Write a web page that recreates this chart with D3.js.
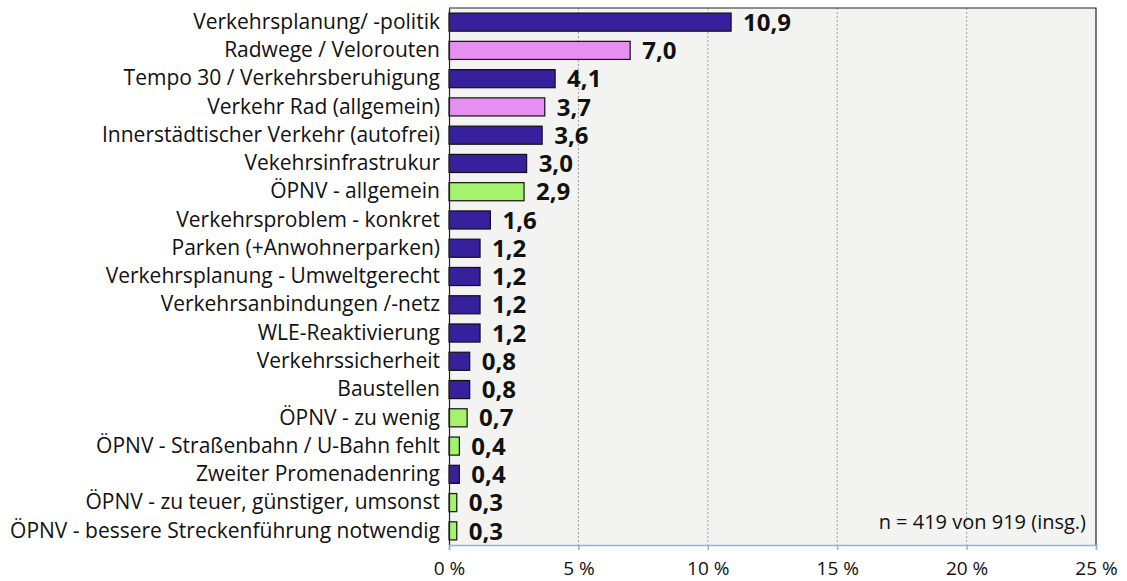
<!DOCTYPE html>
<html>
<head>
<meta charset="utf-8">
<script src="https://cdn.jsdelivr.net/npm/d3@7"></script>
<style>
  body { margin: 0; background: #fff; }
  text { font-family: "Open Sans", sans-serif; }
</style>
</head>
<body>
<script>
const w = 1127;
const h = 581;
const margin = { top: 8, right: 31, bottom: 36, left: 449 };

// data
const categories = [
  'Verkehrsplanung/ -politik',
  'Radwege / Velorouten',
  'Tempo 30 / Verkehrsberuhigung',
  'Verkehr Rad (allgemein)',
  'Innerstädtischer Verkehr (autofrei)',
  'Vekehrsinfrastrukur',
  'ÖPNV - allgemein',
  'Verkehrsproblem - konkret',
  'Parken (+Anwohnerparken)',
  'Verkehrsplanung - Umweltgerecht',
  'Verkehrsanbindungen /-netz',
  'WLE-Reaktivierung',
  'Verkehrssicherheit',
  'Baustellen',
  'ÖPNV - zu wenig',
  'ÖPNV - Straßenbahn / U-Bahn fehlt',
  'Zweiter Promenadenring',
  'ÖPNV - zu teuer, günstiger, umsonst',
  'ÖPNV - bessere Streckenführung notwendig'
];
const values = [10.9, 7.0, 4.1, 3.7, 3.6, 3.0, 2.9, 1.6, 1.2, 1.2, 1.2, 1.2, 0.8, 0.8, 0.7, 0.4, 0.4, 0.3, 0.3];
const groups = ['verkehr', 'rad', 'verkehr', 'rad', 'verkehr', 'verkehr', 'oepnv', 'verkehr', 'verkehr',
  'verkehr', 'verkehr', 'verkehr', 'verkehr', 'verkehr', 'oepnv', 'oepnv', 'verkehr', 'oepnv', 'oepnv'];
const xTicks = [0, 5, 10, 15, 20, 25];
const note = 'n = 419 von 919 (insg.)';

const colorOf = { verkehr: '#36209c', rad: '#e78ff0', oepnv: '#a5f26c' };

const svg = d3.select('body').append('svg')
  .attr('width', w)
  .attr('height', h);

const x = d3.scaleLinear()
  .domain([0, 25])
  .range([margin.left, w - margin.right]);
const y = d3.scaleBand()
  .domain(categories)
  .range([margin.top, h - margin.bottom])
  .paddingInner(0.36)
  .paddingOuter(0.18);

// plot background
svg.append('rect')
  .attr('x', x(0))
  .attr('y', margin.top)
  .attr('width', x(25) - x(0))
  .attr('height', h - margin.bottom - margin.top)
  .attr('fill', '#f3f4f2');

// gridlines
svg.append('g')
  .selectAll('line')
  .data(xTicks.slice(1, -1))
  .enter().append('line')
  .attr('x1', (d) => x(d)).attr('x2', (d) => x(d))
  .attr('y1', margin.top).attr('y2', h - margin.bottom)
  .attr('stroke', '#8a8a8a')
  .attr('stroke-dasharray', '2,2')
  .attr('stroke-width', 0.8);

// top + right border
svg.append('path')
  .attr('d', `M${x(0)},${margin.top}H${x(25)}V${h - margin.bottom}`)
  .attr('fill', 'none')
  .attr('stroke', '#222')
  .attr('stroke-width', 1.2);

// bars
svg.append('g')
  .selectAll('rect')
  .data(values)
  .enter().append('rect')
  .attr('x', x(0))
  .attr('y', (d, i) => y(categories[i]))
  .attr('width', (d) => x(d) - x(0))
  .attr('height', y.bandwidth())
  .attr('fill', (d, i) => colorOf[groups[i]])
  .attr('stroke', '#111')
  .attr('stroke-width', 1.2);

// value labels
svg.append('g')
  .selectAll('text')
  .data(values)
  .enter().append('text')
  .attr('x', (d) => x(d) + 12)
  .attr('y', (d, i) => y(categories[i]) + y.bandwidth() / 2)
  .attr('dy', '0.36em')
  .style('font-size', '24px')
  .style('font-weight', 'bold')
  .attr('fill', '#111')
  .text((d) => d.toFixed(1).replace('.', ','));

// y axis
const yAxis = svg.append('g')
  .attr('transform', `translate(${x(0)},0)`)
  .call(d3.axisLeft(y).tickSize(0).tickPadding(9));
yAxis.select('.domain').attr('stroke', '#222').attr('stroke-width', 1.2);
yAxis.selectAll('text')
  .style('font-size', '21px')
  .style('font-family', '"Open Sans", sans-serif')
  .attr('fill', '#111');

// x axis
const xAxis = svg.append('g')
  .attr('transform', `translate(0,${h - margin.bottom})`)
  .call(d3.axisBottom(x).tickValues(xTicks).tickSize(5).tickPadding(12)
    .tickFormat((d) => d + ' %'));
xAxis.select('.domain').attr('stroke', '#8db3e2').attr('stroke-width', 1.5);
xAxis.selectAll('.tick line').attr('stroke', '#8db3e2').attr('stroke-width', 1.5);
xAxis.selectAll('text')
  .style('font-size', '19px')
  .style('font-family', '"Open Sans", sans-serif')
  .attr('fill', '#111');

// note
svg.append('text')
  .attr('x', x(25) - 10)
  .attr('y', h - margin.bottom - 16)
  .attr('text-anchor', 'end')
  .style('font-size', '20px')
  .attr('fill', '#111')
  .text(note);
</script>
</body>
</html>
